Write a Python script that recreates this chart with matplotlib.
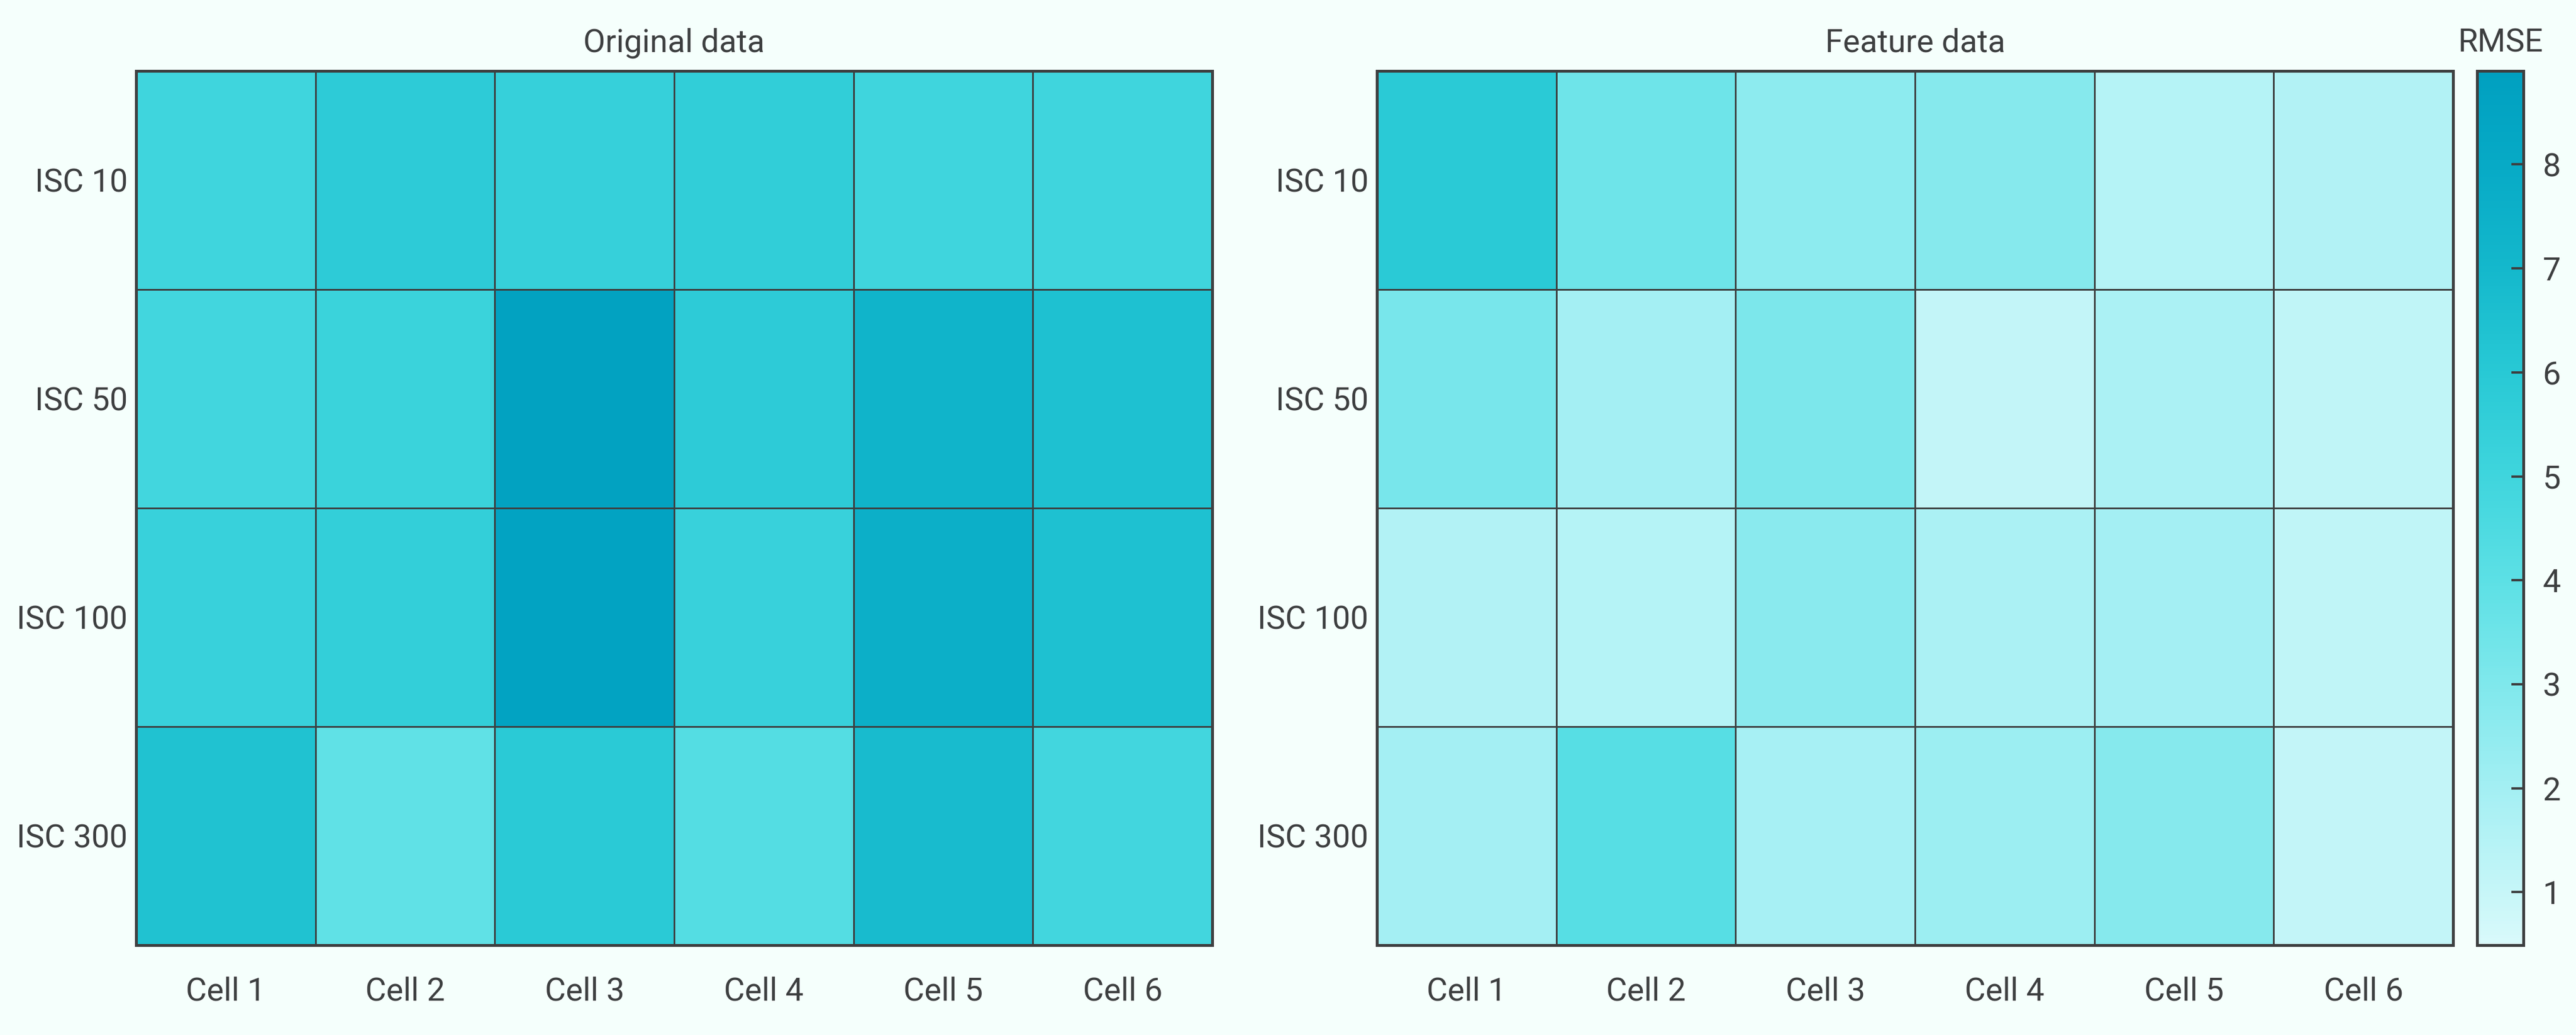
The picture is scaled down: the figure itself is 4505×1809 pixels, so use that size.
import numpy as np
import matplotlib
matplotlib.use("Agg")
import matplotlib.pyplot as plt
from matplotlib.colors import LinearSegmentedColormap

plt.rcParams['font.family'] = ['Roboto', 'DejaVu Sans']

# données
cells = ["Cell 1", "Cell 2", "Cell 3", "Cell 4", "Cell 5", "Cell 6"]
isc = ["ISC 10", "ISC 50", "ISC 100", "ISC 300"]

original = [
    [5.0, 5.8, 5.4, 5.6, 5.0, 5.0],
    [4.9, 5.2, 8.7, 5.8, 7.3, 6.5],
    [5.3, 5.5, 8.6, 5.3, 7.6, 6.5],
    [6.4, 3.9, 5.9, 4.3, 6.8, 4.9],
]
feature = [
    [5.9, 3.5, 2.6, 2.8, 1.5, 1.6],
    [3.2, 2.0, 3.1, 1.1, 1.8, 1.2],
    [1.6, 1.5, 2.7, 1.8, 2.0, 1.2],
    [2.0, 4.2, 1.9, 2.2, 2.8, 1.1],
]

vmin, vmax = 0.49, 8.9
cb_ticks = [1, 2, 3, 4, 5, 6, 7, 8]

# palette
stops = [0.49, 1, 2, 3, 4, 5, 6, 7, 8, 8.9]
cols = ["#d9fafb", "#c6f6f8", "#a3eff3", "#7fe8ec", "#5ce0e5",
        "#3fd5dd", "#28c9d5", "#14b8cc", "#07aac6", "#00a0c0"]
cmap = LinearSegmentedColormap.from_list(
    "rmse", [((s - vmin) / (vmax - vmin), c) for s, c in zip(stops, cols)])

bg = "#f5fffc"
dark = "#3d3f40"

fig = plt.figure(figsize=(4505 / 300, 1809 / 300), dpi=300, facecolor=bg)
ax1 = fig.add_axes([0.0528, 0.0868, 0.4178, 0.8447])
ax2 = fig.add_axes([0.5345, 0.0868, 0.4178, 0.8447])
cax = fig.add_axes([0.9616, 0.0868, 0.018, 0.8447])


def heatmap(ax, data, title):
    mesh = ax.pcolormesh(np.array(data), cmap=cmap, vmin=vmin, vmax=vmax,
                         edgecolors=dark, linewidth=0.7)
    ax.invert_yaxis()
    ax.set_xticks(np.arange(len(cells)) + 0.5)
    ax.set_xticklabels(cells)
    ax.set_yticks(np.arange(len(isc)) + 0.5)
    ax.set_yticklabels(isc)
    ax.tick_params(axis="both", length=0, labelsize=13.5, colors=dark)
    ax.tick_params(axis="x", pad=13)
    ax.tick_params(axis="y", pad=3.5)
    for sp in ax.spines.values():
        sp.set_color(dark)
        sp.set_linewidth(1.2)
    ax.set_title(title, fontsize=13.5, color=dark, pad=8)
    return mesh


m = heatmap(ax1, original, "Original data")
heatmap(ax2, feature, "Feature data")

cb = fig.colorbar(m, cax=cax, ticks=cb_ticks)
cb.outline.set_edgecolor(dark)
cb.outline.set_linewidth(1.2)
cax.tick_params(direction="in", length=5, width=1, colors=dark, labelsize=13.5, pad=8)
cax.set_title("RMSE", fontsize=13.5, color=dark, pad=8)

plt.savefig("out.png", dpi=300, facecolor=bg)
